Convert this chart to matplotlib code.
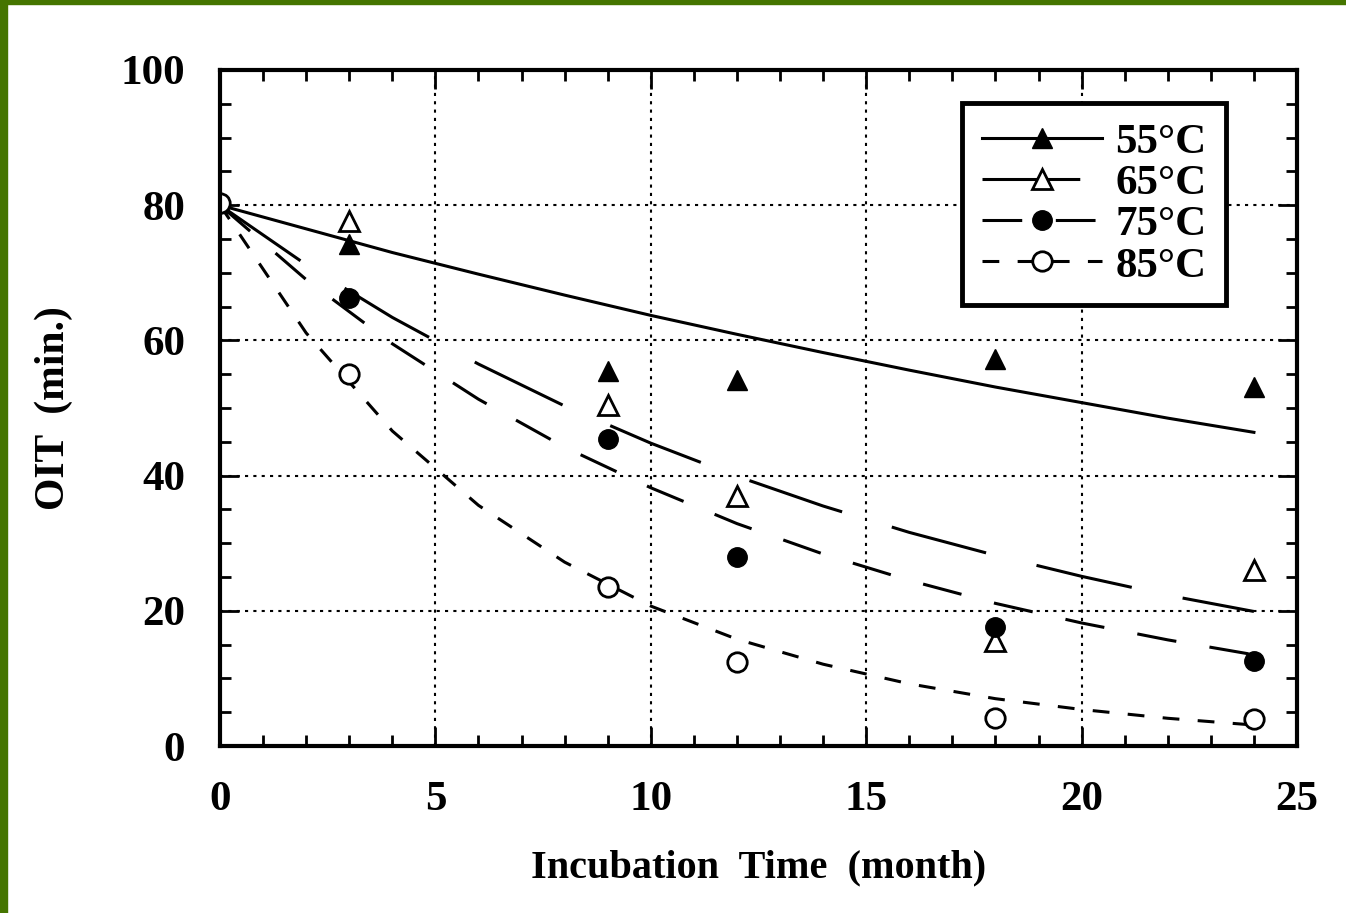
import matplotlib.pyplot as plt
from matplotlib.patches import Rectangle
from matplotlib.ticker import MultipleLocator

plt.rcParams['font.family'] = ['Liberation Serif', 'DejaVu Serif']
plt.rcParams['font.weight'] = 'bold'

# measured points (months, OIT min.)
t_55 = [0, 3, 9, 12, 18, 24]
oit_55 = [80.3, 74.3, 55.5, 54.1, 57.2, 53.1]
t_65 = [3, 9, 12, 18, 24]
oit_65 = [77.7, 50.4, 37.0, 15.5, 26.0]
t_75 = [3, 9, 12, 18, 24]
oit_75 = [66.3, 45.4, 28.0, 17.6, 12.6]
t_85 = [0, 3, 9, 12, 18, 24]
oit_85 = [80.3, 55.0, 23.5, 12.4, 4.1, 4.0]

# fitted curves, every 2 months
t_fit = [0, 2, 4, 6, 8, 10, 12, 14, 16, 18, 20, 22, 24]
fit_55 = [80, 76.5, 73.0, 69.8, 66.7, 63.7, 60.9, 58.2, 55.6, 53.1, 50.8, 48.5, 46.4]
fit_65 = [80, 71.2, 63.4, 56.5, 50.3, 44.8, 39.9, 35.5, 31.6, 28.2, 25.1, 22.3, 19.9]
fit_75 = [80, 69.0, 59.5, 51.3, 44.2, 38.2, 32.9, 28.4, 24.5, 21.1, 18.2, 15.7, 13.5]
fit_85 = [80, 61.1, 46.6, 35.6, 27.2, 20.7, 15.8, 12.1, 9.2, 7.0, 5.4, 4.1, 3.1]

labels = ['55°C', '65°C', '75°C', '85°C']

fig = plt.figure(figsize=(13.46, 9.13), dpi=100)
ax = fig.add_axes([220 / 1346, 1 - 746 / 913, 1077 / 1346, 676 / 913])

lw = 2.2
ms = 14
ls_65 = (0, (32, 17))
ls_75 = (0, (13, 11))
ls_85 = (0, (5.5, 6))
ax.plot(t_fit, fit_55, color='black', lw=lw, ls='-')
ax.plot(t_fit, fit_65, color='black', lw=lw, ls=ls_65)
ax.plot(t_fit, fit_75, color='black', lw=lw, ls=ls_75)
ax.plot(t_fit, fit_85, color='black', lw=lw, ls=ls_85)

ax.plot(t_55, oit_55, ls='none', marker='^', ms=ms, mfc='black', mec='black')
ax.plot(t_65, oit_65, ls='none', marker='^', ms=ms, mfc='white', mec='black', mew=2)
ax.plot(t_75, oit_75, ls='none', marker='o', ms=ms, mfc='black', mec='black')
ax.plot(t_85, oit_85, ls='none', marker='o', ms=ms, mfc='white', mec='black', mew=2)

# legend proxies: line + marker
h55, = ax.plot([], [], color='black', lw=lw, ls='-', marker='^', ms=ms, mfc='black')
h65, = ax.plot([], [], color='black', lw=lw, ls=ls_65, marker='^', ms=ms, mfc='white', mew=2)
h75, = ax.plot([], [], color='black', lw=lw, ls=ls_75, marker='o', ms=ms, mfc='black')
h85, = ax.plot([], [], color='black', lw=lw, ls=ls_85, marker='o', ms=ms, mfc='white', mew=2)
leg = ax.legend([h55, h65, h75, h85], labels, loc='upper right',
                bbox_to_anchor=(0.934, 0.951), borderaxespad=0, fancybox=False,
                edgecolor='black', framealpha=1, handlelength=2.8, handletextpad=0.3,
                labelspacing=0.05, borderpad=0.45, prop={'size': 31, 'weight': 'bold'})
leg.get_frame().set_linewidth(3.5)

ax.set_xlim(0, 25)
ax.set_ylim(0, 100)
ax.xaxis.set_major_locator(MultipleLocator(5))
ax.xaxis.set_minor_locator(MultipleLocator(1))
ax.yaxis.set_major_locator(MultipleLocator(20))
ax.yaxis.set_minor_locator(MultipleLocator(5))
ax.tick_params(which='both', direction='in', top=True, right=True, width=2, labelsize=31)
ax.tick_params(which='major', length=14, pad=25)
ax.tick_params(which='minor', length=8)
ax.grid(True, which='major', color='black', ls=(0, (1.5, 2.5)), lw=1.5)
for s in ax.spines.values():
    s.set_linewidth(3)

ax.set_xlabel('Incubation  Time  (month)', fontsize=29, fontweight='bold', labelpad=22)
ax.set_ylabel('OIT  (min.)', fontsize=30, fontweight='bold', labelpad=34)

# green frame strips of the screenshot
fig.patches.append(Rectangle((0, 1 - 4 / 913), 1, 4 / 913, transform=fig.transFigure,
                             color='#457500', zorder=10))
fig.patches.append(Rectangle((0, 0), 7 / 1346, 1, transform=fig.transFigure,
                             color='#457500', zorder=10))

fig.savefig('out.png', dpi=100)
